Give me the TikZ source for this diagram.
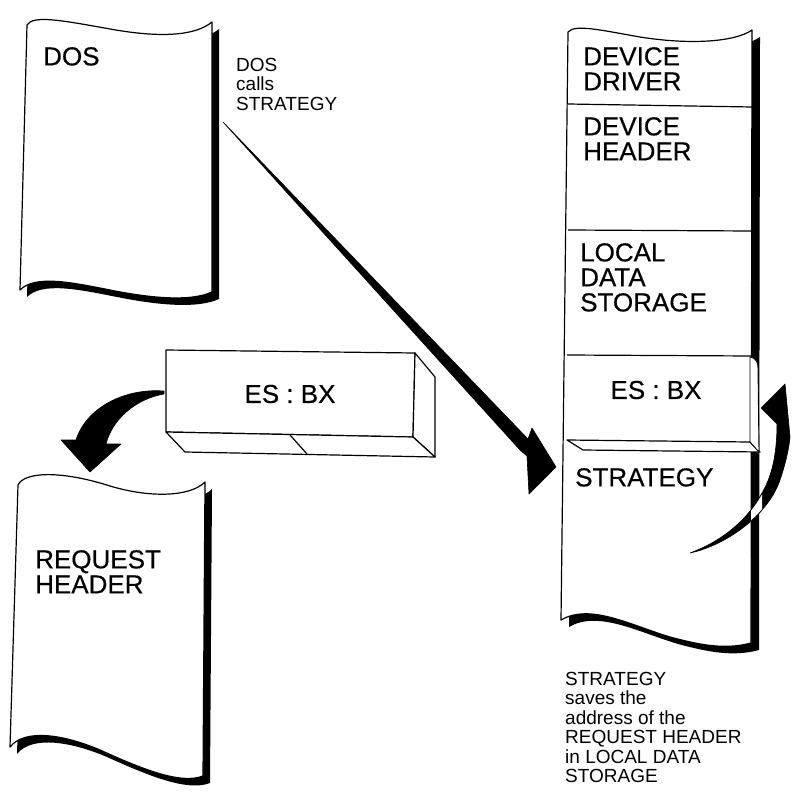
\documentclass[tikz,border=0pt]{standalone}
\usepackage{fontspec}
\setmainfont{Liberation Sans}
\newfontfamily\labelfont[FakeBold=0.4]{Liberation Sans}
\begin{document}
\begin{tikzpicture}[x=1pt,y=-1pt,
  outline/.style={draw=black,line width=1.2pt,line join=round},
  page/.style={outline,fill=white},
  curl/.style={fill=black},
  bigtext/.style={inner sep=0pt,anchor=north west,align=left,font=\labelfont\fontsize{26}{25}\selectfont},
  smalltext/.style={inner sep=0pt,anchor=north west,align=left,font=\fontsize{19}{19.5}\selectfont},
  boxtext/.style={inner sep=0pt,font=\labelfont\fontsize{26}{25}\selectfont},
  swoosh/.style={fill=black,draw=black,line width=0.6pt,line join=round}]
\useasboundingbox (0,0) rectangle (792,792);
\fill[white] (0,0) rectangle (792,792);

% page outlines
\def\dospage{(27,25) .. controls (33,15) and (60,20) .. (110,29) .. controls (160,38) and (195,36) .. (212,22)
  -- (212,292) .. controls (190,302) and (150,298) .. (110,290) .. controls (70,282) and (35,275) .. (20,290) -- cycle}
\def\reqpage{(18,485) .. controls (24,472) and (60,470) .. (110,486) .. controls (150,498) and (190,497) .. (205,482)
  -- (203,776) .. controls (180,785) and (140,768) .. (100,750) .. controls (65,735) and (25,728) .. (10,747) -- cycle}
\def\drvpage{(568,32) .. controls (575,24) and (600,30) .. (640,37) .. controls (690,45) and (735,42) .. (752,30)
  -- (751,643) .. controls (725,650) and (700,645) .. (670,637) .. controls (630,625) and (590,603) .. (561,620) -- cycle}

% DOS
\fill[curl,shift={(7,7)}] \dospage;
\path[page] \dospage;
\node[bigtext] (dos) at (43,47) {DOS};
\node[smalltext] (call) at (236,58) {DOS\\calls\\STRATEGY};

% REQUEST HEADER
\fill[curl,shift={(7,7)}] \reqpage;
\path[page] \reqpage;
\node[bigtext] (req) at (35,550) {REQUEST\\HEADER};

% device driver
\fill[curl,shift={(8,7)}] \drvpage;
\path[page] \drvpage;
\draw[outline] (568,104) -- (752,107);
\draw[outline] (568,230) -- (752,231);
\draw[outline] (567,355) -- (752,356);
\node[bigtext] (drv) at (583,47) {DEVICE\\DRIVER};
\node[bigtext] (dhd) at (583,117) {DEVICE\\HEADER};
\node[bigtext] (lds) at (580,243) {LOCAL\\DATA\\STORAGE};
\node[boxtext] (slot) at (656,390) {ES : BX};
% drawer edge of the saved ES:BX
\filldraw[outline,fill=white] (567,440) -- (750,442) -- (760,452) -- (583,450) -- cycle;
\filldraw[outline,fill=white,line width=0.9pt] (750,357) .. controls (756,358) and (758,362) .. (758,368) -- (759,452) -- (750,442) -- cycle;
\node[bigtext] (strat) at (575,468) {STRATEGY};

% ES:BX register block
\coordinate (fa) at (166,350);
\coordinate (fb) at (415,353);
\coordinate (fc) at (413,437);
\coordinate (fd) at (166,432);
\coordinate (sb) at (435,377);
\coordinate (sc) at (435,457);
\coordinate (bd) at (185,452);
\filldraw[outline,fill=white] (fa) -- (fb) -- (fc) -- (fd) -- cycle;
\filldraw[outline,fill=white] (fb) -- (sb) -- (sc) -- (fc) -- cycle;
\filldraw[outline,fill=white] (fd) -- (fc) -- (sc) -- (bd) -- cycle;
\draw[outline] (290,435) -- (307,454);
\node[boxtext] (reg) at (290,394) {ES : BX};

% DOS calls STRATEGY
\coordinate (callfrom) at (223,122);
\coordinate (calltip) at (556,467);
\filldraw[swoosh] (callfrom) -- (528,439) -- (532,428) -- (calltip) -- (529,494) -- (527,456) -- (520,450) -- cycle;

% ES:BX points at the request header
\coordinate (regleft) at (164,391);
\coordinate (reqtip) at (90,472);
\filldraw[swoosh] (regleft) .. controls (124,388) and (86,408) .. (76,440) -- (61,440) -- (reqtip) -- (121,444) -- (106,444)
  .. controls (112,420) and (135,399) .. (164,394) -- cycle;

% STRATEGY saves ES:BX
\coordinate (savefrom) at (690,553);
\coordinate (savetip) at (761,408);
\def\savearrow{(savefrom) .. controls (727,545) and (768,515) .. (780,480) .. controls (786,462) and (789,448) .. (790,437)
  -- (785,384) -- (savetip) -- (777,424) .. controls (777,442) and (775,462) .. (769,478)
  .. controls (755,515) and (725,540) .. (savefrom) -- cycle}
\filldraw[swoosh] \savearrow;
\begin{scope}
  \clip (751,488) rectangle (762,535);
  \filldraw[fill=white,draw=black,line width=0.8pt] \savearrow;
\end{scope}

\node[smalltext] (note) at (565,672) {STRATEGY\\saves the\\address of the\\REQUEST HEADER\\in LOCAL DATA\\STORAGE};
\end{tikzpicture}
\end{document}
